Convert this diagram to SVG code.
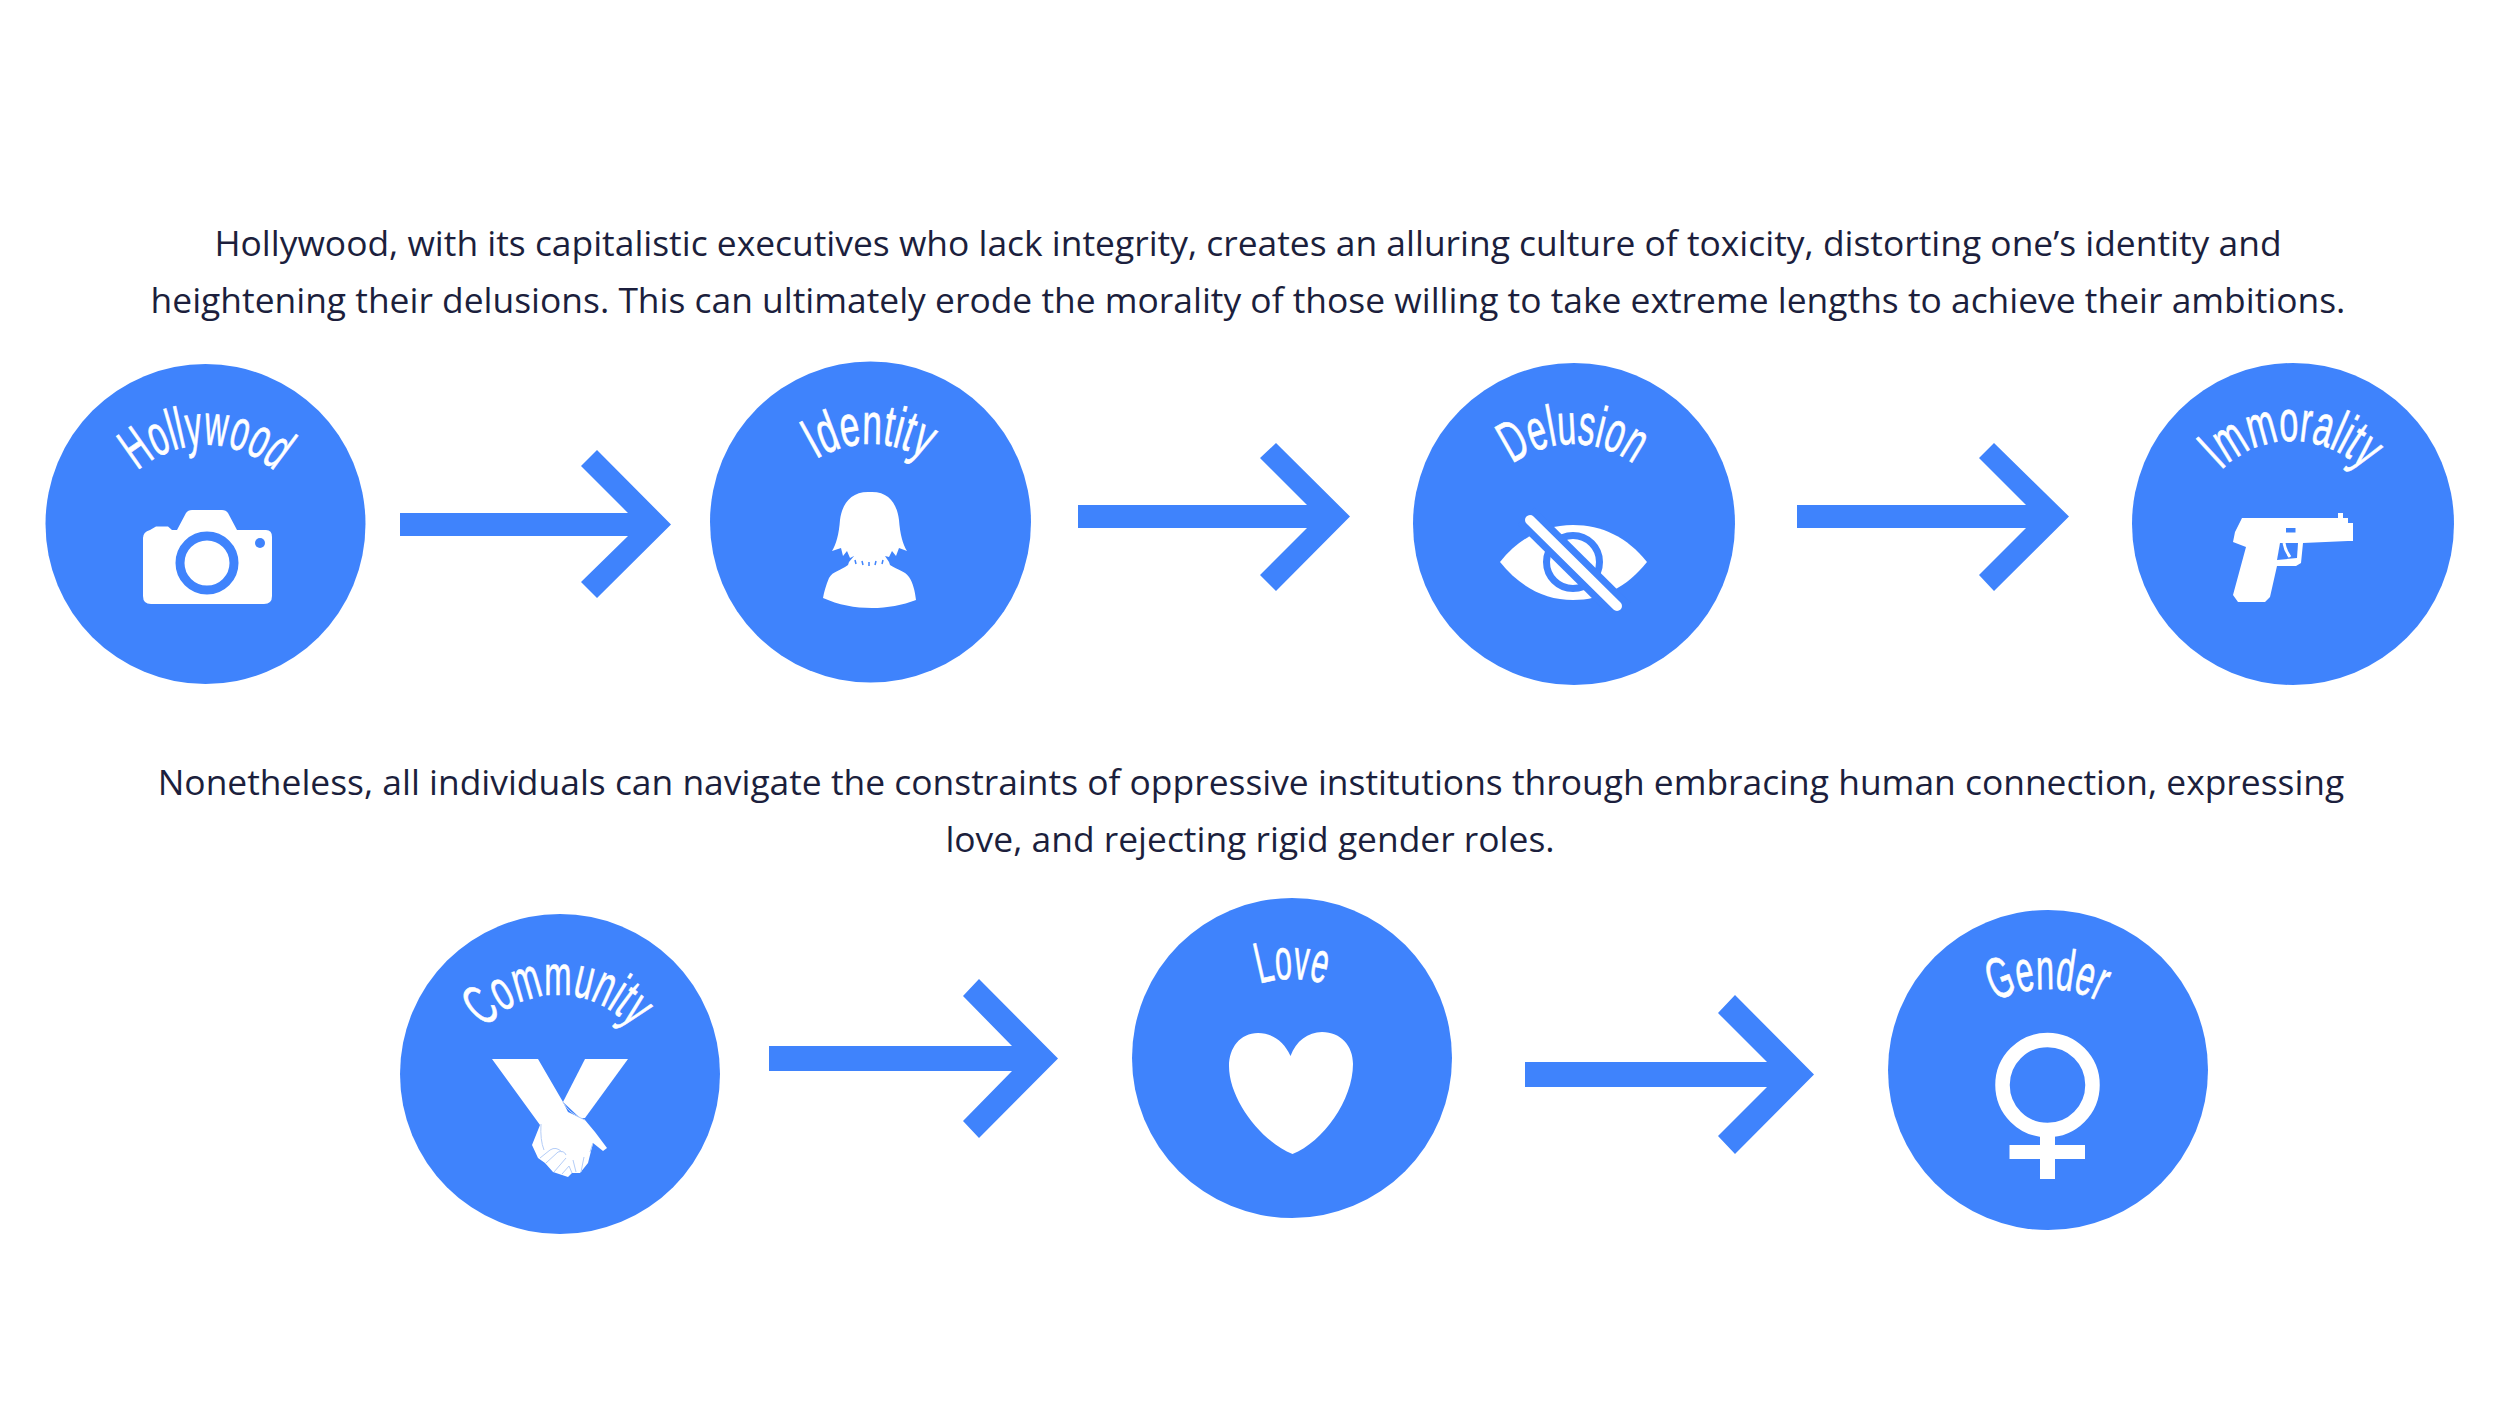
<svg xmlns="http://www.w3.org/2000/svg" width="2500" height="1406" viewBox="0 0 2500 1406">
<style>
.disc{fill:#3f83fc}
.arrow{fill:#3f83fc}
.icon{fill:#fff}
.body{font-family:"Open Sans","Noto Sans",sans-serif;font-size:35.4px;fill:#1c1f3d;text-anchor:middle}
.lab{font-family:"Liberation Sans",Arial,sans-serif;font-size:58px;fill:#fff;stroke:#fff;stroke-width:.7;text-anchor:middle}
.fine{fill:none;stroke:#b4cdf8;stroke-width:1}
</style>
<defs>
<path id="a1" d="M103 548A103 103 0 0 1 309 548"/>
<path id="a2" d="M767 547A103 103 0 0 1 973 547"/>
<path id="a3" d="M1471 546A102 102 0 0 1 1675 546"/>
<path id="a4" d="M2192 541A100 100 0 0 1 2392 541"/>
<path id="a5" d="M461 1092A97 97 0 0 1 655 1092"/>
<path id="a6" d="M1182 1089A110 110 0 0 1 1402 1089"/>
<path id="a7" d="M1932 1104A115 115 0 0 1 2162 1104"/>
</defs>
<rect width="2500" height="1406" fill="#fff"/>
<g id="intro-text">
<text class="body" x="1248" y="256">Hollywood, with its capitalistic executives who lack integrity, creates an alluring culture of toxicity, distorting one’s identity and</text>
<text class="body" x="1248" y="313">heightening their delusions. This can ultimately erode the morality of those willing to take extreme lengths to achieve their ambitions.</text>
</g>
<g id="outro-text">
<text class="body" x="1251" y="795">Nonetheless, all individuals can navigate the constraints of oppressive institutions through embracing human connection, expressing</text>
<text class="body" x="1250" y="852">love, and rejecting rigid gender roles.</text>
</g>
<g id="connectors">
<path class="arrow" d="M400 513H628L581 466L597 450L671 524.500L597 598L581 582L628 536H400Z"/>
<path class="arrow" d="M1078 505H1307L1260 458L1276 443L1350 516.500L1276 591L1260 575L1307 528H1078Z"/>
<path class="arrow" d="M1797 505H2026L1979 458L1994 443L2069 516.500L1994 591L1979 575L2026 528H1797Z"/>
<path class="arrow" d="M769 1046H1012L963 996L979 979L1058 1058.500L979 1138L963 1121L1012 1071H769Z"/>
<path class="arrow" d="M1525 1062H1767L1718 1013L1735 995L1814 1074.500L1735 1154L1718 1136L1767 1087H1525Z"/>
</g>
<g id="node-hollywood">
<circle class="disc" cx="205.500" cy="524" r="160"/>
<text class="lab" textLength="150" lengthAdjust="spacingAndGlyphs"><textPath href="#a1" startOffset="50%">Hollywood</textPath></text>
<path class="icon" d="M143 538Q143 532 150 530L156 526.500H168L172 530H177L186 513Q188 510 192 510H222Q226 510 228 513L237 530H266Q272 530 272 537V596Q272 604 264 604H151Q143 604 143 596Z"/>
<circle cx="207" cy="563" r="27" fill="none" stroke="#3f83fc" stroke-width="9"/>
<circle class="disc" cx="260" cy="543" r="5"/>
</g>
<g id="node-identity">
<circle class="disc" cx="870.500" cy="522" r="160.500"/>
<text class="lab" textLength="114" lengthAdjust="spacingAndGlyphs"><textPath href="#a2" startOffset="50%">Identity</textPath></text>
<path class="icon" d="M870 492C851 491 842 504 840 520C839 534 836 545 832 551L841 548L843 556L847 551L850 558L854 556L849 562L848 565C840 571 833 571 829 578C826 585 824 592 823 598C852 611 888 611 916 600C915 591 913 583 909 577C905 571 898 570 890 565L889 562L885 556L889 557L892 551L896 556L899 548L907 551C903 545 900 534 899 520C897 504 889 491 870 492Z"/>
<path d="M855 560l1 4M862 561l1 4M869 562v4M876 561l-1 4M883 560l-1 4" stroke="#3f83fc" stroke-width="1.500" fill="none"/>
</g>
<g id="node-delusion">
<circle class="disc" cx="1574" cy="524" r="161"/>
<text class="lab" textLength="130" lengthAdjust="spacingAndGlyphs"><textPath href="#a3" startOffset="50%">Delusion</textPath></text>
<path class="icon" d="M1500 562C1520 537 1545 525 1573 525C1602 525 1627 537 1647 562C1627 587 1602 600 1573 600C1545 600 1520 587 1500 562Z"/>
<circle cx="1573" cy="562" r="26.500" fill="none" stroke="#3f83fc" stroke-width="7"/>
<path d="M1526 516L1622 611" stroke="#3f83fc" stroke-width="24" fill="none"/>
<path d="M1530 520L1617 606" stroke="#fff" stroke-width="10" stroke-linecap="round" fill="none"/>
</g>
<g id="node-immorality">
<circle class="disc" cx="2293" cy="524" r="161"/>
<text class="lab" textLength="158" lengthAdjust="spacingAndGlyphs"><textPath href="#a4" startOffset="50%">Immorality</textPath></text>
<path class="icon" d="M2242 518H2338V513H2343V518H2348V523H2353V541H2348L2303 543L2301 563L2296 566H2277L2270 597L2265 602H2238L2233 595L2246 547L2233 542L2235 532Z"/>
<rect class="disc" x="2286" y="528" width="9.500" height="4.500"/>
<path class="disc" d="M2280 543H2298L2297 558L2277 560Z"/>
<path d="M2284 543Q2285 550 2290 557" fill="none" stroke="#fff" stroke-width="3"/>
</g>
<g id="node-community">
<circle class="disc" cx="560" cy="1074" r="160"/>
<text class="lab" textLength="166" lengthAdjust="spacingAndGlyphs"><textPath href="#a5" startOffset="50%">Community</textPath></text>
<path class="icon" d="M585 1059H628L585 1118H580L563 1102Z"/>
<path class="icon" d="M492 1059H538L563 1102L568 1112L585 1120L595 1132L607 1148L603 1151L593 1143L588 1163L580 1173H572L568 1177L562 1175L553 1172L545 1163L538 1158L532 1145L540 1125Z"/>
<path class="fine" d="M563 1102Q568 1113 585 1120M541 1124Q540 1140 544 1150M593 1143L590 1152M584 1157L581 1172M573 1160L576 1172M540 1158L550 1150Q556 1146 562 1152M546 1163L558 1152Q564 1150 566 1155M554 1172L566 1158M562 1174L569 1166L572 1173"/>
</g>
<g id="node-love">
<circle class="disc" cx="1292" cy="1058" r="160"/>
<text class="lab" textLength="66" lengthAdjust="spacingAndGlyphs"><textPath href="#a6" startOffset="50%">Love</textPath></text>
<path class="icon" d="M1290.500 1056C1284 1041 1272 1033 1258 1033C1240 1033 1229 1048 1229 1066C1229 1100 1262 1142 1292.500 1154C1323 1142 1353 1100 1353 1064C1353 1046 1341 1032 1322 1032C1308 1032 1296 1041 1290.500 1056Z"/>
</g>
<g id="node-gender">
<circle class="disc" cx="2048" cy="1070" r="160"/>
<text class="lab" textLength="108" lengthAdjust="spacingAndGlyphs"><textPath href="#a7" startOffset="50%">Gender</textPath></text>
<circle cx="2047.500" cy="1085" r="45" fill="none" stroke="#fff" stroke-width="14.500"/>
<path class="icon" d="M2040 1130H2055V1145H2085V1159H2055V1179H2040V1159H2009.500V1145H2040Z"/>
</g>
</svg>
